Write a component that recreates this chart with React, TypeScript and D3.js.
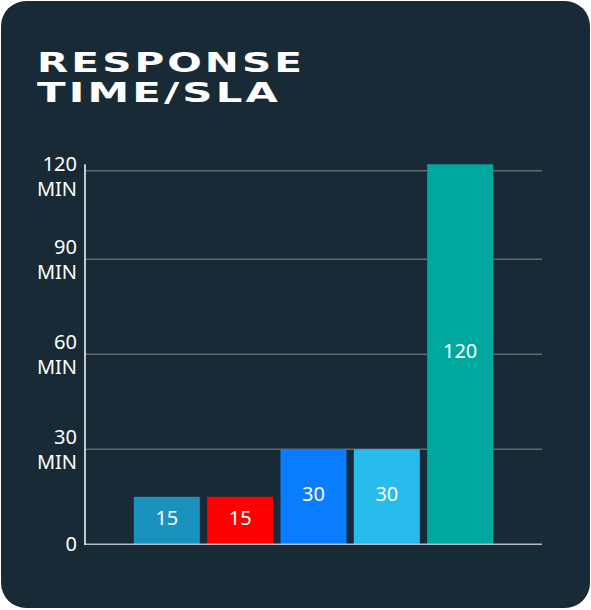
import { useEffect, useRef } from "react"
import * as d3 from "d3"

const categories = ["A", "B", "C", "D", "E"]
const values = [15, 15, 30, 30, 120]
const barColors = ["#1a92be", "#ff0000", "#0a7cff", "#27bcec", "#00a99e"]
const tickValues = [0, 30, 60, 90, 118]
const tickLabels = [["0"], ["30", "MIN"], ["60", "MIN"], ["90", "MIN"], ["120", "MIN"]]
const titleLines = ["RESPONSE", "TIME/SLA"]

const W = 591
const H = 610

export default function App() {
  const ref = useRef<SVGSVGElement>(null)

  useEffect(() => {
    if (!ref.current) return
    const el = ref.current
    d3.select(el).selectAll("*").remove()

    const svg = d3.select(el).attr("width", W).attr("height", H).attr("viewBox", `0 0 ${W} ${H}`)

    svg.append("rect").attr("width", W).attr("height", H).attr("fill", "#ffffff")
    svg
      .append("rect")
      .attr("x", 1)
      .attr("y", 1)
      .attr("width", 589)
      .attr("height", 607)
      .attr("rx", 25)
      .attr("fill", "#172a36")

    // Title
    const titleWidths = [268, 244]
    svg
      .append("g")
      .selectAll("text")
      .data(titleLines)
      .join("text")
      .attr("x", 37)
      .attr("y", (_, i) => 72 + i * 30)
      .attr("fill", "#ffffff")
      .attr("font-family", "DejaVu Sans")
      .attr("font-weight", 700)
      .attr("font-size", 26.5)
      .attr("letter-spacing", 2)
      .attr("textLength", (_, i) => titleWidths[i])
      .attr("lengthAdjust", "spacingAndGlyphs")
      .text((d) => d)

    const margin = { top: 164.3, right: 49, bottom: 65.7, left: 85 }
    const iW = W - margin.left - margin.right
    const iH = H - margin.top - margin.bottom

    const g = svg.append("g").attr("transform", `translate(${margin.left},${margin.top})`)

    const x = d3.scaleBand().domain(categories).range([0, iW]).paddingInner(0.1).paddingOuter(0.666)
    const y = d3.scaleLinear().domain([0, 120]).range([iH, 0])

    // Gridlines
    g.append("g")
      .selectAll("line")
      .data(tickValues.filter((v) => v > 0))
      .join("line")
      .attr("x1", 0)
      .attr("x2", iW)
      .attr("y1", (d) => y(d))
      .attr("y2", (d) => y(d))
      .attr("stroke", "#5d6a72")
      .attr("stroke-width", 1.5)

    // Bars
    const bars = g.append("g").selectAll("g").data(values).join("g")
    bars
      .append("rect")
      .attr("x", (_, i) => x(categories[i])!)
      .attr("y", (d) => y(d))
      .attr("width", x.bandwidth())
      .attr("height", (d) => iH - y(d))
      .attr("fill", (_, i) => barColors[i])
    bars
      .append("text")
      .attr("x", (_, i) => x(categories[i])! + x.bandwidth() / 2)
      .attr("y", (d) => (y(d) + iH) / 2 - 3)
      .attr("dy", "0.35em")
      .attr("text-anchor", "middle")
      .attr("fill", "#ffffff")
      .attr("font-family", "Noto Sans")
      .attr("font-size", 20)
      .text((d) => d)

    // Baseline
    g.append("line")
      .attr("x1", 0)
      .attr("x2", iW)
      .attr("y1", iH)
      .attr("y2", iH)
      .attr("stroke", "#b4b9bd")
      .attr("stroke-width", 1.5)

    // Y axis line
    g.append("line")
      .attr("x1", 0)
      .attr("x2", 0)
      .attr("y1", 0)
      .attr("y2", iH + 0.75)
      .attr("stroke", "#ffffff")
      .attr("stroke-width", 1.5)

    // Tick labels
    const labels = g
      .append("g")
      .selectAll("text")
      .data(tickValues)
      .join("text")
      .attr("text-anchor", "end")
      .attr("fill", "#ffffff")
      .attr("font-family", "Noto Sans")
      .attr("font-size", 20)
      .attr("transform", (d) => `translate(-8,${Math.max(y(d), 12)})`)

    labels
      .selectAll("tspan")
      .data((_, i) => tickLabels[i].map((t, j, arr) => ({ t, j, n: arr.length })))
      .join("tspan")
      .attr("x", 0)
      .attr("y", (d) => (d.n === 1 ? 7 : d.j === 0 ? -5 : 19.5))
      .text((d) => d.t)
  }, [])

  return (
    <svg ref={ref} style={{ position: "absolute", left: 0, top: 0, display: "block" }} />
  )
}
